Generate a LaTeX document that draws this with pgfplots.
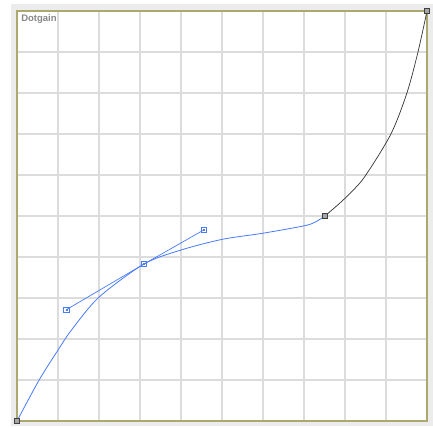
\documentclass[border=0pt]{standalone}
\usepackage{pgfplots}
\pgfplotsset{compat=1.18}
\usepackage{fontspec}
\setmainfont{Liberation Sans}

\definecolor{bgray}{RGB}{236,236,236}
\definecolor{gridc}{RGB}{220,220,220}
\definecolor{olive}{RGB}{172,168,112}
\definecolor{curveblue}{RGB}{72,122,250}
\definecolor{labelgray}{RGB}{135,135,135}

\begin{document}
\begin{tikzpicture}[x=1pt,y=1pt]
  % page and grey surround
  \fill[white] (0,0) rectangle (433,426);
  \fill[bgray] (11,0) rectangle (433,422);
  \begin{axis}[
      at={(17pt,5pt)}, anchor=south west,
      scale only axis,
      width=410pt, height=410pt,
      xmin=0, xmax=1, ymin=0, ymax=1,
      xtick={0,0.1,...,1}, ytick={0,0.1,...,1},
      xticklabels={}, yticklabels={},
      major tick length=0pt,
      grid=major,
      grid style={gridc, line width=1.3pt},
      axis line style={olive, line width=1.3pt},
      axis background/.style={fill=white},
      clip=false,
    ]
    % dot gain curve, blue part
    \addplot[curveblue, line width=0.8pt, smooth, tension=0.5] coordinates {
      (0,0) (0.054,0.100) (0.100,0.173) (0.133,0.222) (0.200,0.302)
      (0.310,0.383) (0.400,0.417) (0.500,0.443) (0.600,0.458)
      (0.700,0.476) (0.727,0.485) (0.751,0.500)
    };
    % dot gain curve, black part
    \addplot[black!80, line width=0.7pt, smooth, tension=0.5] coordinates {
      (0.751,0.500) (0.788,0.532) (0.820,0.563) (0.851,0.600)
      (0.912,0.700) (0.951,0.800) (0.978,0.900) (1,1)
    };
    % tangent handle
    \addplot[curveblue, line width=0.7pt, mark=square, mark size=2.7pt,
      mark options={fill=white, line width=0.7pt}] coordinates {
      (0.1203,0.2715) (0.3098,0.3829) (0.4554,0.4659)
    };
    \addplot[curveblue, only marks, mark=square*, mark size=0.6pt] coordinates {
      (0.1203,0.2715) (0.3098,0.3829) (0.4554,0.4659)
    };
    % anchor points
    \addplot[only marks, mark=square*, mark size=2.8pt,
      mark options={draw=black!75, fill=black!35, line width=0.7pt}] coordinates {
      (0,0) (0.751,0.500) (1,1)
    };
    \node[anchor=north west, inner sep=0pt, font=\fontsize{9.5}{10}\selectfont\bfseries,
      text=labelgray] at (axis description cs:0.01,0.992) {Dotgain};
  \end{axis}
\end{tikzpicture}
\end{document}
